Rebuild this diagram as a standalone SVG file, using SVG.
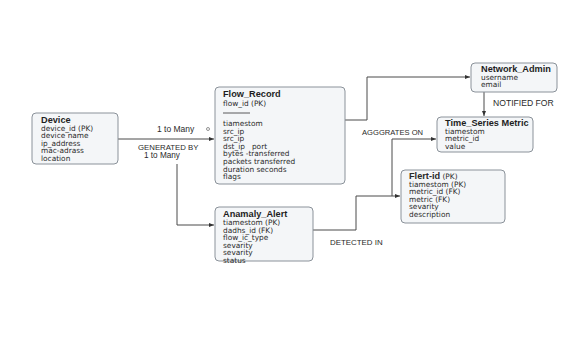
<svg xmlns="http://www.w3.org/2000/svg" width="566" height="347" viewBox="0 0 566 347">
<defs>
<style>
.box{fill:#f4f6f8;stroke:#8b929a;stroke-width:1}
.t{font-family:"Liberation Sans",Arial,sans-serif;font-size:9.2px;font-weight:bold;fill:#1e1e1e}
.a{font-family:"DejaVu Sans","Liberation Sans",sans-serif;font-size:7.4px;fill:#2a2a2a}
.lbl{font-family:"Liberation Sans",Arial,sans-serif;fill:#2a2a2a}
.c{fill:none;stroke:#4a4a4a;stroke-width:1}
</style>
<marker id="arr" viewBox="0 0 10 10" refX="10" refY="5" markerWidth="5" markerHeight="5" orient="auto">
<path d="M0,1 L10,5 L0,9 Z" fill="#333"/>
</marker>
</defs>
<rect width="566" height="347" fill="#ffffff"/>
<g id="connectors">
<path class="c" d="M118,139 H214" marker-end="url(#arr)"/>
<path class="c" d="M177,164 V225 H214" marker-end="url(#arr)"/>
<path class="c" d="M345,120 H367 V77 H470" marker-end="url(#arr)"/>
<path class="c" d="M484,92 V116" marker-end="url(#arr)"/>
<path class="c" d="M313,230 H356 V196 H400" marker-end="url(#arr)"/>
<path class="c" d="M392,196 V139 H436" marker-end="url(#arr)"/>
<circle cx="208" cy="129" r="1.5" fill="none" stroke="#777" stroke-width="0.8"/>
<text class="lbl" x="157" y="132" font-size="8.5">1 to Many</text>
<text class="lbl" x="138" y="150" font-size="7.8">GENERATED BY</text>
<text class="lbl" x="144" y="158" font-size="8.2">1 to Many</text>
<text class="lbl" x="362" y="135" font-size="7.6">AGGGRATES ON</text>
<text class="lbl" x="493" y="106" font-size="8.6">NOTIFIED FOR</text>
<text class="lbl" x="330" y="245" font-size="7.9">DETECTED IN</text>
</g>
<g id="device">
<rect class="box" x="32" y="113" width="86" height="51" rx="4"/>
<text class="t" x="41" y="123">Device</text>
<text class="a" x="41" y="130.5">device_id (PK)</text>
<text class="a" x="41" y="138">device name</text>
<text class="a" x="41" y="145.5">ip_address</text>
<text class="a" x="41" y="153">mac-adrass</text>
<text class="a" x="41" y="160.5">location</text>
</g>
<g id="flow_record">
<rect class="box" x="215" y="87" width="130" height="97" rx="4"/>
<text class="t" x="223" y="97">Flow_Record</text>
<text class="a" x="223" y="106">flow_id (PK)</text>
<line x1="223" y1="113" x2="250" y2="113" stroke="#333" stroke-width="0.8"/>
<text class="a" x="223" y="126">tiamestom</text>
<text class="a" x="223" y="133.6">src_ip</text>
<text class="a" x="223" y="141.2">src_ip</text>
<text class="a" x="223" y="148.8" xml:space="preserve">dst_ip   port</text>
<text class="a" x="223" y="156.4">bytes -transferred</text>
<text class="a" x="223" y="164">packets transferred</text>
<text class="a" x="223" y="171.6">duration seconds</text>
<text class="a" x="223" y="179.2">flags</text>
</g>
<g id="anamaly_alert">
<rect class="box" x="215" y="207" width="98" height="54" rx="4"/>
<text class="t" x="223" y="217">Anamaly_Alert</text>
<text class="a" x="223" y="225">tiamestom (PK)</text>
<text class="a" x="223" y="232.6">dadhs_id (FK)</text>
<text class="a" x="223" y="240.2">flow_ic_type</text>
<text class="a" x="223" y="247.8">sevarity</text>
<text class="a" x="223" y="255.4">sevarity</text>
<text class="a" x="223" y="263">status</text>
</g>
<g id="network_admin">
<rect class="box" x="471" y="63" width="86" height="29" rx="4"/>
<text class="t" x="481" y="72">Network_Admin</text>
<text class="a" x="481" y="79.5">username</text>
<text class="a" x="481" y="87">email</text>
</g>
<g id="time_series_metric">
<rect class="box" x="437" y="117" width="96" height="35" rx="4"/>
<text class="t" x="445" y="126">Time_Series Metric</text>
<text class="a" x="445" y="133.5">tiamestom</text>
<text class="a" x="445" y="141">metric_id</text>
<text class="a" x="445" y="148.5">value</text>
</g>
<g id="flert">
<rect class="box" x="401" y="170" width="104" height="53" rx="4"/>
<text class="a" x="409" y="179"><tspan font-family="Liberation Sans, Arial, sans-serif" font-weight="bold" font-size="9.2">Flert-id</tspan> (PK)</text>
<text class="a" x="409" y="186.6">tiamestom (PK)</text>
<text class="a" x="409" y="194.2">metric_id (FK)</text>
<text class="a" x="409" y="201.8">metric (FK)</text>
<text class="a" x="409" y="209.4">sevarity</text>
<text class="a" x="409" y="217">description</text>
</g>
</svg>
